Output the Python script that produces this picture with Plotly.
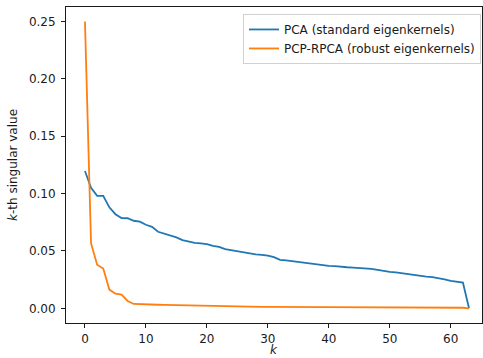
import plotly.graph_objects as go

k = list(range(64))
pca = [0.1197, 0.1050, 0.0980, 0.0980, 0.0880, 0.0820, 0.0787, 0.0785, 0.0763, 0.0755,
       0.0728, 0.0710, 0.0667, 0.0652, 0.0638, 0.0618, 0.0594, 0.0580, 0.0571, 0.0565,
       0.0560, 0.0545, 0.0536, 0.0516, 0.0507, 0.0496, 0.0484, 0.0475, 0.0470, 0.0466,
       0.0460, 0.0446, 0.0423, 0.0417, 0.0410, 0.0402, 0.0396, 0.0390, 0.0385, 0.0379,
       0.0370, 0.0367, 0.0360, 0.0358, 0.0355, 0.0353, 0.0350, 0.0343, 0.0335, 0.0323,
       0.0317, 0.0314, 0.0306, 0.0300, 0.0294, 0.0280, 0.0277, 0.0271, 0.0265, 0.0253,
       0.0239, 0.0233, 0.0224, 0.0000]
rpca = [0.2500, 0.0565, 0.0380, 0.0347, 0.0163, 0.0128, 0.0120, 0.0064, 0.0038, 0.0035,
        0.0033, 0.0032, 0.0031, 0.0030, 0.0029, 0.0027, 0.0022, 0.0020, 0.0019, 0.0018,
        0.0017, 0.0016, 0.0016, 0.0015, 0.0015, 0.0014, 0.0014, 0.0014, 0.0013, 0.0013,
        0.0013, 0.0012, 0.0012, 0.0012, 0.0011, 0.0011, 0.0011, 0.0011, 0.0010, 0.0010,
        0.0010, 0.0010, 0.0009, 0.0009, 0.0009, 0.0009, 0.0009, 0.0008, 0.0008, 0.0008,
        0.0008, 0.0008, 0.0007, 0.0007, 0.0007, 0.0007, 0.0006, 0.0006, 0.0006, 0.0006,
        0.0005, 0.0005, 0.0005, 0.0000]
names = ["PCA (standard eigenkernels)", "PCP-RPCA (robust eigenkernels)"]
colors = ["#1f77b4", "#ff7f0e"]
yticks = [0.00, 0.05, 0.10, 0.15, 0.20, 0.25]
xticks = [0, 10, 20, 30, 40, 50, 60]

fig = go.Figure()
for vals, nm, c in zip([pca, rpca], names, colors):
    fig.add_trace(go.Scatter(x=k, y=vals, mode="lines", name=nm,
                             line=dict(color=c, width=1.8)))

font = dict(family="DejaVu Sans", size=12, color="#1a1a1a")
axis_common = dict(showline=True, linecolor="#1a1a1a", linewidth=1, mirror=True,
                   ticks="outside", ticklen=4, tickwidth=1, tickcolor="#1a1a1a",
                   showgrid=False, zeroline=False, tickfont=font)
fig.update_layout(
    width=483, height=358,
    margin=dict(l=66, r=1, t=7, b=35),
    plot_bgcolor="white", paper_bgcolor="white",
    font=font,
    showlegend=True,
    legend=dict(x=0.9976, y=0.978, xanchor="right", yanchor="top",
                bordercolor="#d0d0d0", borderwidth=1, bgcolor="rgba(255,255,255,0.8)",
                font=font, tracegroupgap=0),
    xaxis=dict(range=[-3.11, 65.13], tickvals=xticks, ticklabelstandoff=1,
               **axis_common),
    yaxis=dict(range=[-0.0128, 0.2626], tickvals=yticks, tickformat=".2f",
               ticklabelstandoff=3,
               title=dict(text="<i>k</i>-th singular value", standoff=8, font=font),
               **axis_common),
    annotations=[dict(text="<i>k</i>", xref="paper", yref="paper", x=0.5, y=0,
                      yshift=-35, xanchor="center", yanchor="bottom",
                      borderpad=0, showarrow=False, font=font)],
)
fig.write_html("out.html", config={"displayModeBar": False},
               post_script="document.body.style.margin='0';document.body.style.overflow='hidden';")
